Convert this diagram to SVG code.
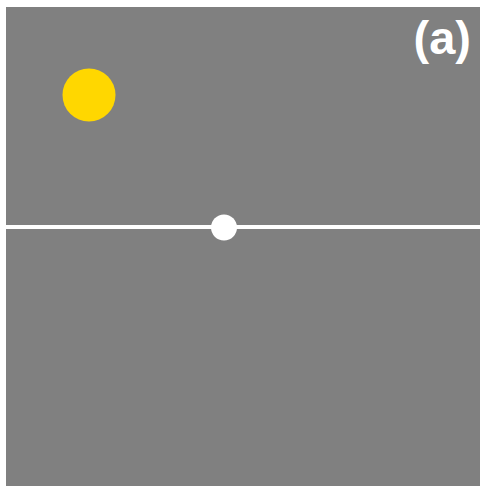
<svg xmlns="http://www.w3.org/2000/svg" width="486" height="486" viewBox="0 0 486 486">
<style>
.lbl{font-family:"Liberation Sans",Arial,sans-serif;font-weight:bold;fill:#ffffff}
</style>
<rect x="0" y="0" width="486" height="486" fill="#ffffff"/>
<rect x="6" y="7" width="474" height="479" fill="#808080"/>
<g id="sun"><circle cx="89" cy="95" r="26.5" fill="#FFD700"/></g>
<g id="connectors"><line x1="0" y1="227" x2="486" y2="227" stroke="#ffffff" stroke-width="4"/></g>
<g id="dot"><circle cx="224" cy="227.5" r="13" fill="#ffffff"/></g>
<text class="lbl" x="471" y="54" font-size="47" text-anchor="end">(a)</text>
</svg>
